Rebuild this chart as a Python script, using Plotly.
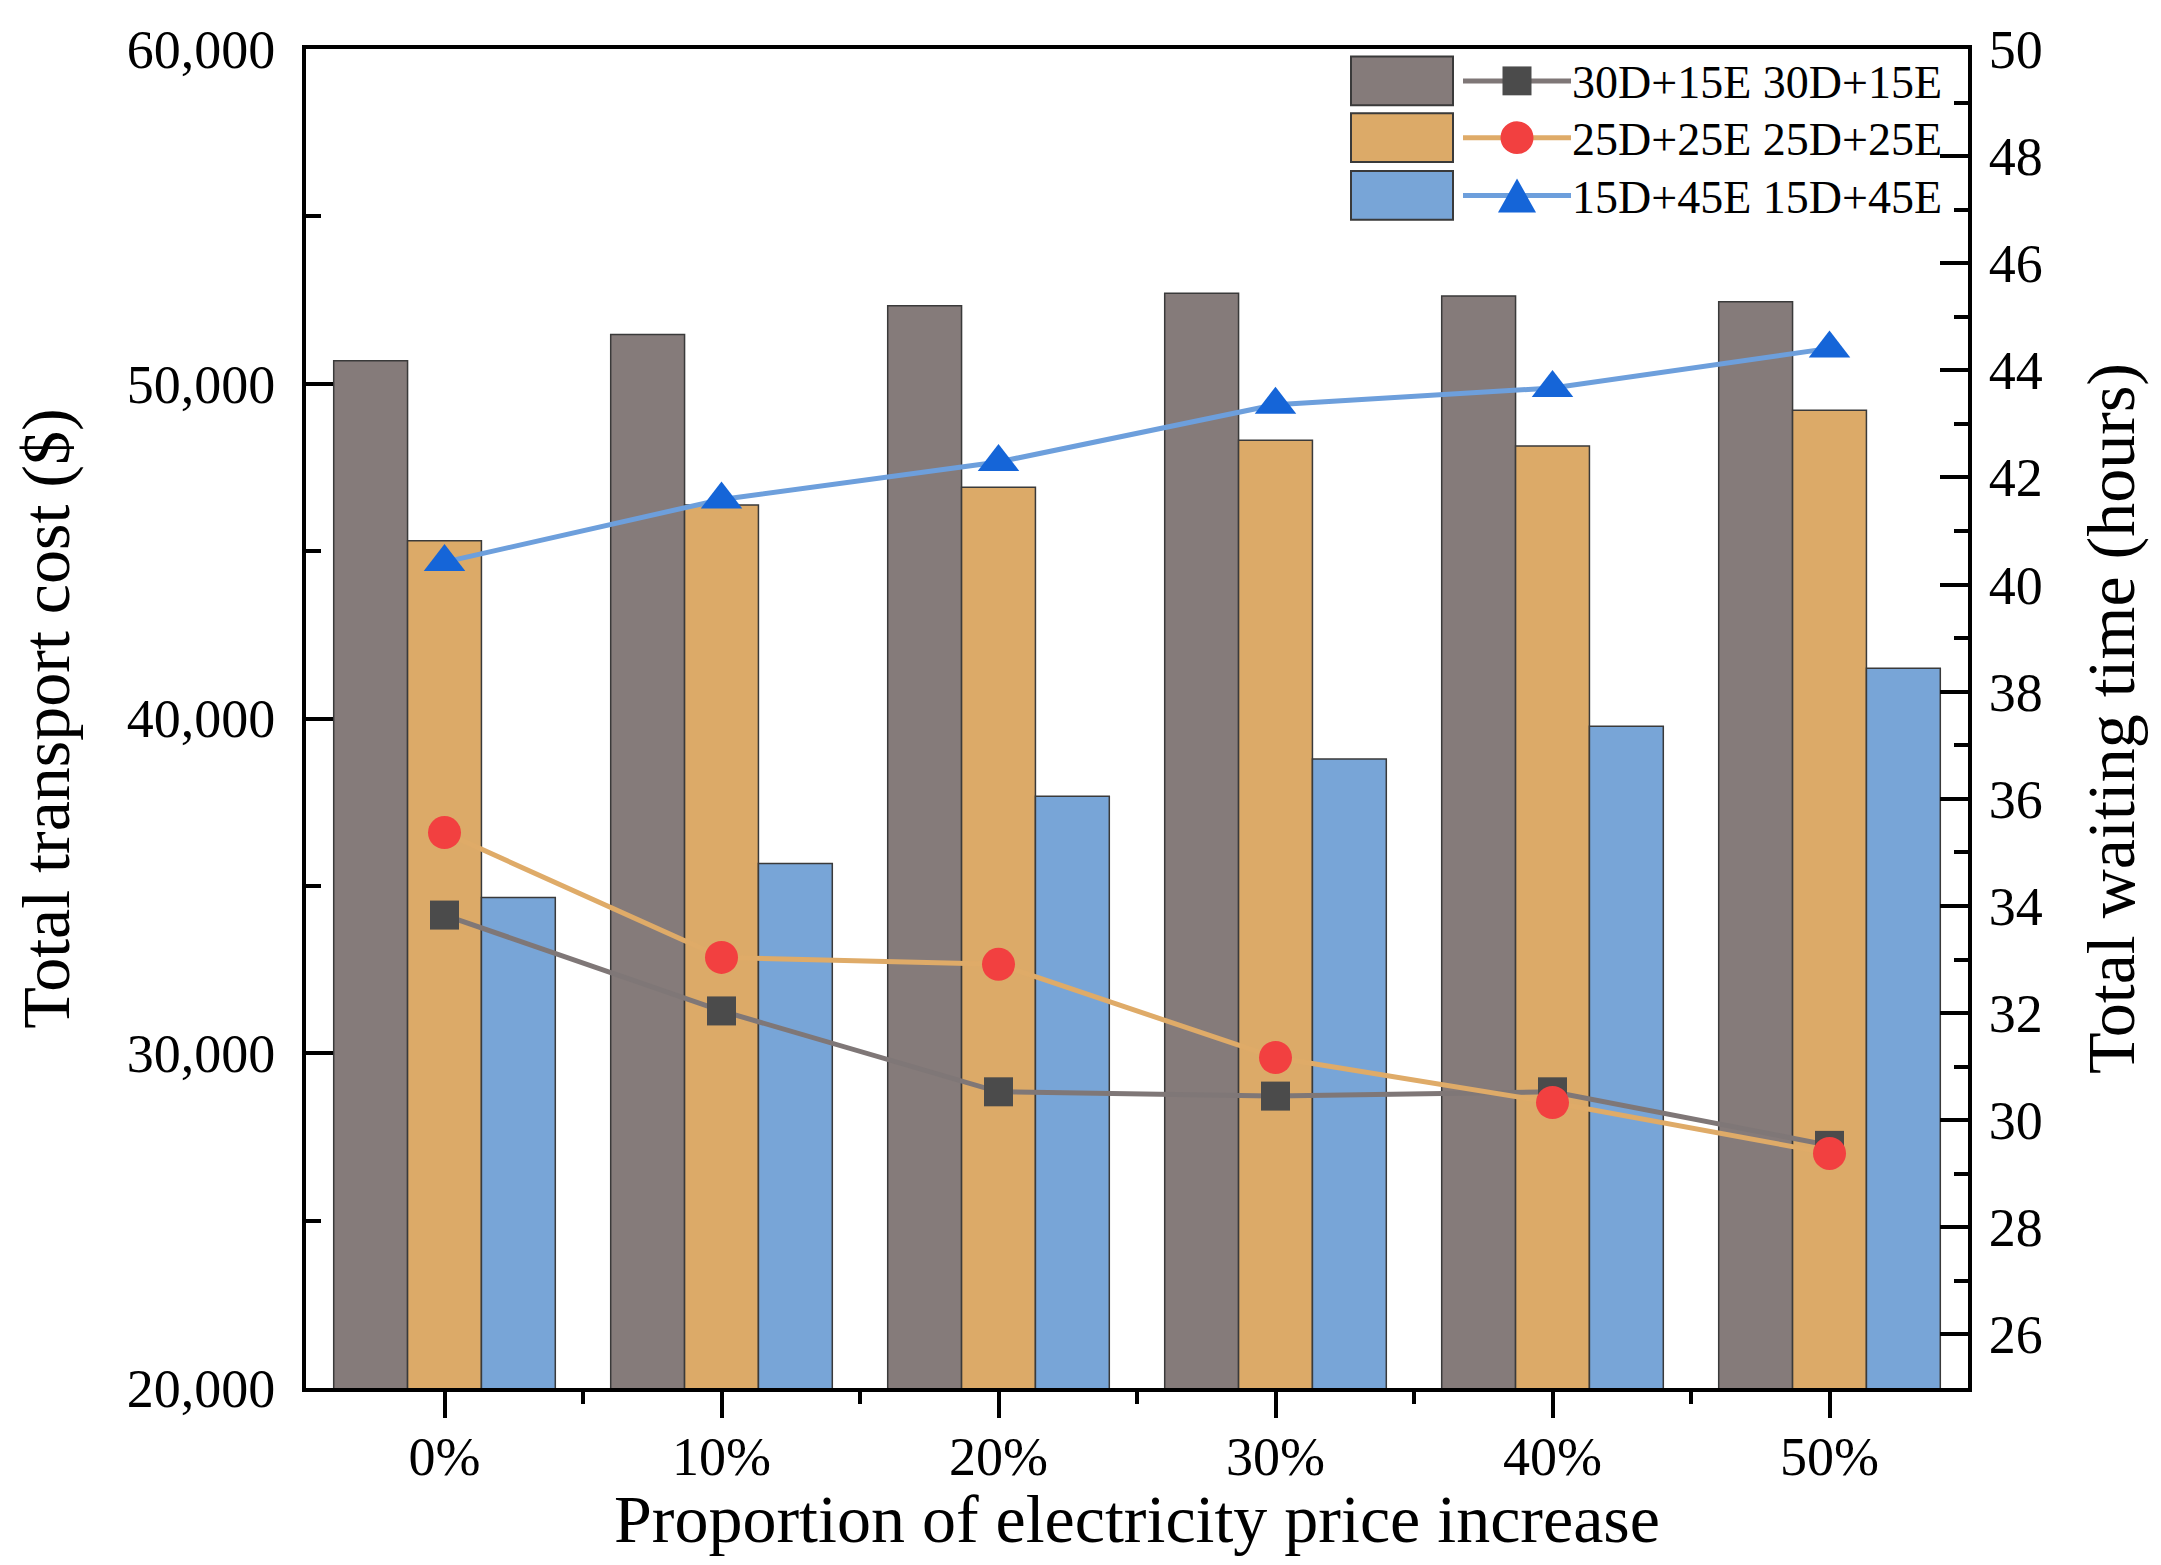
import plotly.graph_objects as go

categories = ["0%", "10%", "20%", "30%", "40%", "50%"]
series_names = ["30D+15E", "25D+25E", "15D+45E"]

cost_30d15e = [50690, 51470, 52330, 52700, 52620, 52450]
cost_25d25e = [45310, 46380, 46910, 48310, 48140, 49210]
cost_15d45e = [34650, 35670, 37680, 38790, 39770, 41500]

wait_30d15e = [33.83, 32.04, 30.53, 30.45, 30.53, 29.53]
wait_25d25e = [35.37, 33.04, 32.91, 31.17, 30.33, 29.38]
wait_15d45e = [40.42, 41.59, 42.29, 43.36, 43.67, 44.41]

# page offset (default body margin of the html page)
OFF = 8
W, H = 2161 - 2 * OFF, 1565 - 2 * OFF
# desired plot area in screenshot pixels
L, R, T, B = 306, 1968, 44, 1388
FONT = "Liberation Serif, Times New Roman, serif"

bar_colors = ["#857b7a", "#dcaa68", "#78a5d7"]
line_colors = ["#7f7777", "#dfab68", "#6d9fdc"]
marker_colors = ["#4b4b4b", "#f24040", "#1565d8"]
marker_symbols = ["square", "circle", "triangle-up"]
marker_sizes = [29, 33, 36]

xs = list(range(len(categories)))
costs = [cost_30d15e, cost_25d25e, cost_15d45e]
waits = [wait_30d15e, wait_25d25e, wait_15d45e]

fig = go.Figure()
for i, name in enumerate(series_names):
    fig.add_trace(go.Bar(
        x=xs, y=costs[i], name=name, showlegend=False,
        marker=dict(color=bar_colors[i], line=dict(color="#3a3a3a", width=1.5)),
        yaxis="y",
    ))
for i, name in enumerate(series_names):
    fig.add_trace(go.Scatter(
        x=xs, y=waits[i], name=f"{name} {name}", mode="lines+markers", showlegend=False,
        line=dict(color=line_colors[i], width=5),
        marker=dict(color=marker_colors[i], symbol=marker_symbols[i], size=marker_sizes[i],
                    line=dict(width=0)),
        yaxis="y2",
    ))

# ---- manual legend (paper coordinates derived from pixel layout) ----
def px_x(p):
    return (p - L) / (R - L)

def px_y(p):
    return (B - p) / (B - T)

row_centers = [76, 133, 191]
sw_h = 49
for i, name in enumerate(series_names):
    cy = row_centers[i]
    fig.add_shape(type="rect", xref="paper", yref="paper",
                  x0=px_x(1351), x1=px_x(1453), y0=px_y(cy + sw_h / 2), y1=px_y(cy - sw_h / 2),
                  fillcolor=bar_colors[i], line=dict(color="#3a3a3a", width=2), layer="above")
    fig.add_shape(type="line", xref="paper", yref="paper",
                  x0=px_x(1463), x1=px_x(1571), y0=px_y(cy), y1=px_y(cy),
                  line=dict(color=line_colors[i], width=5), layer="above")
    mx = 1517
    if i == 0:
        s = 14.5
        fig.add_shape(type="rect", xref="paper", yref="paper",
                      x0=px_x(mx - s), x1=px_x(mx + s), y0=px_y(cy + s), y1=px_y(cy - s),
                      fillcolor=marker_colors[i], line=dict(width=0), layer="above")
    elif i == 1:
        r = 16.5
        fig.add_shape(type="circle", xref="paper", yref="paper",
                      x0=px_x(mx - r), x1=px_x(mx + r), y0=px_y(cy + r), y1=px_y(cy - r),
                      fillcolor=marker_colors[i], line=dict(width=0), layer="above")
    else:
        hw, hh = 19, 17
        path = (f"M {px_x(mx - hw)} {px_y(cy + hh)} L {px_x(mx + hw)} {px_y(cy + hh)} "
                f"L {px_x(mx)} {px_y(cy - hh)} Z")
        fig.add_shape(type="path", xref="paper", yref="paper", path=path,
                      fillcolor=marker_colors[i], line=dict(width=0), layer="above")
    fig.add_annotation(xref="paper", yref="paper", x=px_x(1570), y=px_y(cy + 2),
                       xanchor="left", yanchor="middle", showarrow=False,
                       text=f"{name} {name}",
                       font=dict(family=FONT, size=46, color="black"))

axis_font = dict(family=FONT, size=54, color="black")
title_font = dict(family=FONT, size=68, color="black")

fig.update_layout(
    width=W, height=H,
    margin=dict(l=L - OFF, r=W - (R - OFF), t=T - OFF, b=H - (B - OFF)),
    paper_bgcolor="white", plot_bgcolor="white",
    barmode="group", bargap=0.2, bargroupgap=0,
    font=dict(family=FONT, color="black"),
    showlegend=False,
    xaxis=dict(
        range=[-0.5, 5.5], tickmode="array", tickvals=xs, ticktext=categories,
        tickfont=dict(family=FONT, size=54, color="black"),
        ticks="outside", ticklen=26, tickwidth=4, tickcolor="black",
        ticklabelstandoff=-8,
        minor=dict(tickmode="array", tickvals=[x + 0.5 for x in xs[:-1]],
                   ticks="outside", ticklen=12, tickwidth=4, tickcolor="black"),
        showline=True, linewidth=4, linecolor="black", mirror=True,
        showgrid=False, zeroline=False,
        title=dict(text="Proportion of electricity price increase", font=title_font, standoff=2),
    ),
    yaxis=dict(
        range=[20000, 60000], tick0=20000, dtick=10000, tickformat=",",
        tickfont=axis_font,
        ticks="inside", ticklen=27, tickwidth=4, tickcolor="black",
        ticklabelstandoff=16,
        minor=dict(dtick=5000, tick0=20000, ticks="inside", ticklen=15, tickwidth=4, tickcolor="black"),
        showline=True, linewidth=4, linecolor="black",
        showgrid=False, zeroline=False,
        title=dict(text="Total transport cost ($)", font=title_font, standoff=44),
    ),
    yaxis2=dict(
        range=[25, 50], tick0=26, dtick=2, overlaying="y", side="right",
        tickfont=axis_font,
        ticks="inside", ticklen=28, tickwidth=4, tickcolor="black",
        ticklabelstandoff=6,
        minor=dict(dtick=2, tick0=25, ticks="inside", ticklen=14, tickwidth=4, tickcolor="black"),
        showline=True, linewidth=4, linecolor="black",
        showgrid=False, zeroline=False,
        title=dict(text="Total waiting time (hours)", font=title_font, standoff=46),
    ),
)

fig.write_html("out.html")
